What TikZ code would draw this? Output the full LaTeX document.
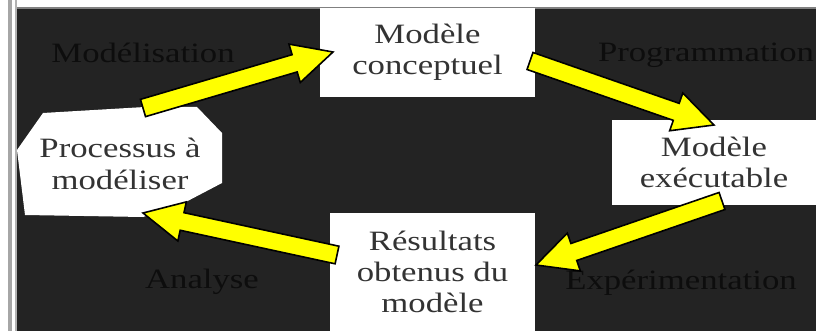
\documentclass[tikz,border=0pt]{standalone}
\usepackage{fontspec}
\setmainfont{Liberation Serif}[FakeStretch=1.24]
\usetikzlibrary{calc}
\definecolor{fond}{HTML}{232323}
\definecolor{jaune}{HTML}{FFFF00}
\tikzset{
  boite/.style={fill=white, text=black!80, align=center, inner sep=0pt},
  etape/.style={text=black!95, anchor=base},
  fleche/.style={fill=jaune, draw=black, line width=1.2pt, line join=miter}
}
\begin{document}
\begin{tikzpicture}[x=0.75pt, y=-0.75pt, font=\fontsize{21pt}{23.5pt}\selectfont]
  \useasboundingbox (0,0) rectangle (816,331);
  % fond et bordure
  \fill[white] (0,0) rectangle (816,331);
  \fill[gray!70] (8,0) rectangle (12,331);
  \fill[gray!60] (15,0) rectangle (17,331);
  \fill[fond] (17,8) rectangle (816,331);
  \draw[gray, line width=1pt] (17,8) -- (816,8);

  % noms des etapes
  \node[etape] (modl) at (143,63) {Modélisation};
  \node[etape] (prog) at (706,62) {Programmation};
  \node[etape] (anal) at (202,288) {Analyse};
  \node[etape] (expe) at (681,289) {Expérimentation};

  % processus (octogone irregulier)
  \fill[white] (43,113) -- (145,107) -- (197,107) -- (222,133) -- (222,183)
    -- (180,205) -- (143,217) -- (25,215) -- (17,150) -- cycle;
  \node[boite, fill=none] (proc) at (120,164) {Processus à\\modéliser};

  % les trois modeles
  \node[boite, minimum width=161.25pt, minimum height=66.75pt] (conc)
    at (427.5,52.5) {Modèle\\conceptuel};
  \node[boite, minimum width=153pt, minimum height=63.75pt] (exec)
    at (714,162.5) {Modèle\\exécutable};
  \node[boite, minimum width=153.75pt, minimum height=88.5pt] (resu)
    at (432.5,272) {Résultats\\obtenus du\\modèle};

  % bouts des fleches
  \coordinate (f1a) at (143,108); \coordinate (f1b) at (333,52);
  \coordinate (f2a) at (530,61);  \coordinate (f2b) at (714,125);
  \coordinate (f3a) at (722,201); \coordinate (f3b) at (536,265);
  \coordinate (f4a) at (337,255); \coordinate (f4b) at (143,213);

  \foreach \a/\b in {f1a/f1b, f2a/f2b, f3a/f3b, f4a/f4b} {
    \coordinate (n) at ($(\b)!30pt!(\a)$);
    \draw[fleche] ($(\a)!6.75pt!90:(\b)$) -- ($(n)!6.75pt!-90:(\a)$)
      -- ($(n)!15pt!-90:(\a)$) -- (\b) -- ($(n)!15pt!90:(\a)$)
      -- ($(n)!6.75pt!90:(\a)$) -- ($(\a)!6.75pt!-90:(\b)$) -- cycle;
  }
\end{tikzpicture}
\end{document}
